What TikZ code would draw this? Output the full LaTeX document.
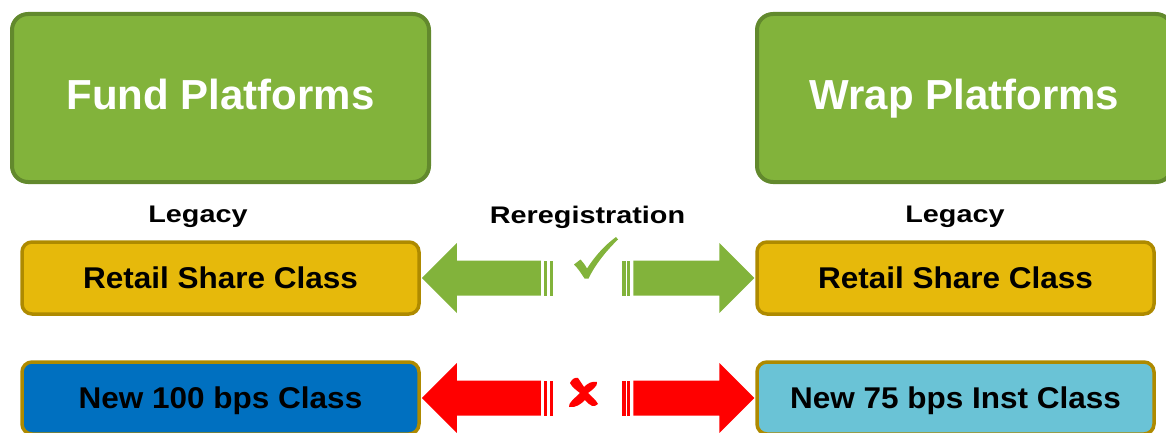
\documentclass[tikz,border=0pt]{standalone}
\usepackage{fontspec}
\usepackage{graphicx}
\setmainfont{Liberation Sans}
\usetikzlibrary{calc}
\definecolor{pgreen}{HTML}{82B33B}
\definecolor{pgreenD}{HTML}{62892D}
\definecolor{gold}{HTML}{E6B90B}
\definecolor{goldD}{HTML}{AE8A00}
\definecolor{nblue}{HTML}{0070C0}
\definecolor{lblue}{HTML}{6AC3D6}
\definecolor{ared}{HTML}{FF0000}
\newcommand{\wide}[2]{\scalebox{#1}[1]{#2}}
\tikzset{
  platbox/.style={draw=pgreenD, fill=pgreen, line width=4pt, rounded corners=16pt,
    minimum width=417pt, minimum height=168pt, inner sep=0pt, text=white,
    text height=24pt, text depth=0pt,
    font=\fontsize{42}{46}\selectfont\bfseries},
  classbox/.style={draw=goldD, line width=3.5pt, rounded corners=10pt,
    minimum width=397pt, minimum height=72pt, inner sep=0pt, text=black,
    text height=20.5pt, text depth=0pt,
    font=\fontsize{30}{32}\selectfont\bfseries},
  lbl/.style={font=\fontsize{24}{26}\selectfont\bfseries, inner sep=0pt, anchor=base},
}
\begin{document}
\begin{tikzpicture}[x=1pt,y=-1pt]
\useasboundingbox (0,0) rectangle (1166,433);
% top platform boxes
\node[platbox] (fund) at (220.5,98) {Fund Platforms};
\node[platbox, minimum width=415pt] (wrap) at (964.5,98) {Wrap Platforms};
% labels
\node[lbl] (legL) at (198,222.5) {\wide{1.2}{Legacy}};
\node[lbl] (rereg) at (587.5,223) {\wide{1.2}{Reregistration}};
\node[lbl] (legR) at (955,222.5) {\wide{1.2}{Legacy}};
% class boxes
\node[classbox, fill=gold] (rl) at (220.5,278) {\wide{1.05}{Retail Share Class}};
\node[classbox, fill=gold] (rr) at (955.5,278) {\wide{1.05}{Retail Share Class}};
\node[classbox, fill=nblue] (bl) at (220.5,398) {\wide{1.05}{New 100 bps Class}};
\node[classbox, fill=lblue] (br) at (955.5,398) {\wide{1.05}{New 75 bps Inst Class}};
% striped arrows
\foreach \src/\dst/\col in {rl/rr/pgreen, bl/br/ared}{
  \fill[\col] ($(\src.east)+(1,0)$) -- ++(35,-35) -- ++(0,17.5) -- ++(84,0) -- ++(0,35)
     -- ++(-84,0) -- ++(0,17.5) -- cycle;
  \fill[\col] ($(\src.east)+(123.7,-17.5)$) rectangle ++(2.6,35);
  \fill[\col] ($(\src.east)+(129,-17.5)$) rectangle ++(3.3,35);
  \fill[\col] ($(\dst.west)+(-1,0)$) -- ++(-35,-35) -- ++(0,17.5) -- ++(-86,0) -- ++(0,35)
     -- ++(86,0) -- ++(0,17.5) -- cycle;
  \fill[\col] ($(\dst.west)+(-125.2,-17.5)$) rectangle ++(-2.6,35);
  \fill[\col] ($(\dst.west)+(-129.7,-17.5)$) rectangle ++(-3.3,35);
}
% check mark
\coordinate (ok) at (596,258);
\fill[pgreen] (574,264.5) -- (580.5,259.5) .. controls (583,262) and (585,265) .. (587,268.5)
  .. controls (595,256) and (605,245) .. (616,237) -- (618,239.5)
  .. controls (606,251) and (595,265) .. (588.5,278.5) -- (584.5,278.5)
  .. controls (581,273) and (578,268.5) .. cycle;
% cross mark
\coordinate (no) at (583,393);
\fill[ared] (570,383) .. controls (572,379) and (575,377) .. (578,378)
  .. controls (580,381) and (582,384) .. (584,387)
  .. controls (588,383) and (592,381) .. (597,382)
  .. controls (598,386) and (592,390) .. (588,393)
  .. controls (592,397) and (596,400) .. (598,404)
  .. controls (594,408) and (590,406) .. (585,400)
  .. controls (581,404) and (576,408) .. (569,407)
  .. controls (568,403) and (575,398) .. (580,393)
  .. controls (576,390) and (572,387) .. cycle;
\end{tikzpicture}
\end{document}
